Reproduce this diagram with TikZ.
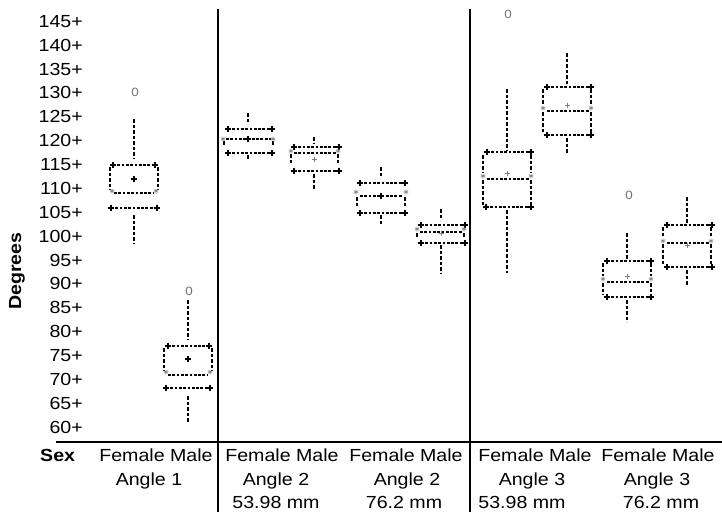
\documentclass[tikz,border=0pt]{standalone}
\usepackage{fontspec}
\setmainfont{Liberation Sans}[FakeStretch=1.12]
\usetikzlibrary{plotmarks}
\begin{document}
\begin{tikzpicture}[x=1pt,y=-1pt,
  hd/.style={line width=1.3pt, dash pattern=on 2.8pt off 1.5pt},
  vd/.style={line width=1.7pt, dash pattern=on 3.5pt off 2pt},
  pm/.style={only marks, mark=+, mark size=3.3pt, mark options={line width=1.2pt,black,solid}},
  st/.style={only marks, mark=asterisk, mark size=2.5pt, mark options={line width=0.8pt,black!45,solid}},
  mb/.style={only marks, mark=+, mark size=2.8pt, mark options={line width=1.2pt,black,solid}},
  mg/.style={only marks, mark=+, mark size=2.5pt, mark options={line width=0.7pt,black!50,solid}},
  ol/.style={font=\fontsize{12}{12}\selectfont, text=black!55, inner sep=0},
  ax/.style={font=\fontsize{17.5}{19}\selectfont, anchor=base east, inner sep=0},
  lb/.style={font=\fontsize{17.5}{19}\selectfont, anchor=base, inner sep=0},
  frame/.style={line width=1.5pt}]
\useasboundingbox (0,0) rectangle (722,512);
% frame lines
\coordinate (v1t) at (218,9); \coordinate (v1b) at (218,512);
\coordinate (v2t) at (470,9); \coordinate (v2b) at (470,512);
\coordinate (hl) at (56,442); \coordinate (hr) at (722,442);
\draw[frame] (v1t) -- (v1b);
\draw[frame] (v2t) -- (v2b);
\draw[frame] (hl) -- (hr);
% axis labels
\foreach \v in {60,65,...,145}
  \node[ax] (l\v) at (83,{427-4.776*(\v-60)+6.2}) {\v+};
\node[font=\bfseries\fontsize{17.5}{19}\selectfont, rotate=90, inner sep=0] (deg) at (17,271) {Degrees};
% bottom labels
\node[font=\bfseries\fontsize{17.5}{19}\selectfont, anchor=base west, inner sep=0] (sex) at (40,461) {Sex};
\node[lb] (g1a) at (156,461) {Female Male};
\node[lb] (g2a) at (282,461) {Female Male};
\node[lb] (g3a) at (406,461) {Female Male};
\node[lb] (g4a) at (535,461) {Female Male};
\node[lb] (g5a) at (658,461) {Female Male};
\node[lb] (g1b) at (149,485) {Angle 1};
\node[lb] (g2b) at (276,485) {Angle 2};
\node[lb] (g3b) at (407,485) {Angle 2};
\node[lb] (g4b) at (532,485) {Angle 3};
\node[lb] (g5b) at (657,485) {Angle 3};
\node[lb] (g2c) at (276,508) {53.98 mm};
\node[lb] (g3c) at (404,508) {76.2 mm};
\node[lb] (g4c) at (522,508) {53.98 mm};
\node[lb] (g5c) at (661,508) {76.2 mm};

% ---- Angle 1 Female
\draw[vd] (134,119) -- (134,159);
\draw[hd] (113,165) -- (155,165);
\draw[vd] (110,167) -- (110,190); \draw[vd] (158,167) -- (158,190);
\draw[hd] (114,193) -- (154,193);
\draw[hd] (111,208) -- (157,208);
\draw[vd] (134,215) -- (134,243);
\draw plot[pm] coordinates {(113,165) (155,165) (111,208) (157,208)};
\draw plot[st] coordinates {(112,191) (156,191)};
\draw plot[mb] coordinates {(134,179)};
\node[ol] (o1) at (135,92) {0};
% ---- Angle 1 Male
\draw[vd] (188,300) -- (188,340);
\draw[hd] (168,346) -- (209,346);
\draw[vd] (164,348) -- (164,371); \draw[vd] (212,348) -- (212,371);
\draw[hd] (168,375) -- (208,375);
\draw[hd] (166,388) -- (210,388);
\draw[vd] (188,396) -- (188,423);
\draw plot[pm] coordinates {(168,346) (209,346) (166,388) (210,388)};
\draw plot[st] coordinates {(166,372) (210,372)};
\draw plot[mb] coordinates {(188,359)};
\node[ol] (o2) at (189,291) {0};
% ---- Angle 2 53.98 Female
\draw[vd] (248,113) -- (248,123);
\draw[hd] (228,129) -- (272,129);
\draw[hd] (226,139) -- (271,139);
\draw[vd] (224,141) -- (224,146); \draw[vd] (273,141) -- (273,146);
\draw[hd] (228,153) -- (272,153);
\draw[vd] (248,155) -- (248,160);
\draw plot[pm] coordinates {(228,129) (272,129) (228,153) (272,153)};
\draw plot[st] coordinates {(223,139) (273,139)};
\draw plot[mb] coordinates {(248,139)};
% ---- Angle 2 53.98 Male
\draw[vd] (314,137) -- (314,144);
\draw[hd] (294,147) -- (339,147);
\draw[hd] (294,153) -- (337,153);
\draw[vd] (291,154) -- (291,164); \draw[vd] (338,154) -- (338,164);
\draw[hd] (294,171) -- (339,171);
\draw[vd] (314,174) -- (314,189);
\draw plot[pm] coordinates {(294,147) (339,147) (294,171) (339,171)};
\draw plot[st] coordinates {(291,151) (338,151)};
\draw plot[mg] coordinates {(314,159)};
% ---- Angle 2 76.2 Female
\draw[vd] (381,167) -- (381,178);
\draw[hd] (360,183) -- (405,183);
\draw[hd] (360,196) -- (403,196);
\draw[vd] (357,197) -- (357,206); \draw[vd] (405,197) -- (405,206);
\draw[hd] (360,213) -- (405,213);
\draw[vd] (381,215) -- (381,225);
\draw plot[pm] coordinates {(360,183) (405,183) (360,213) (405,213)};
\draw plot[st] coordinates {(356,192) (406,192)};
\draw plot[mb] coordinates {(381,196)};
% ---- Angle 2 76.2 Male
\draw[vd] (441,209) -- (441,220);
\draw[hd] (421,225) -- (465,225);
\draw[hd] (420,232) -- (462,232);
\draw[vd] (417,233) -- (417,238); \draw[vd] (464,233) -- (464,238);
\draw[hd] (421,243) -- (465,243);
\draw[vd] (441,245) -- (441,273);
\draw plot[pm] coordinates {(421,225) (465,225) (421,243) (465,243)};
\draw plot[st] coordinates {(417,229) (464,229)};
\draw plot[mg] coordinates {(441,233)};
% ---- Angle 3 53.98 Female
\draw[vd] (507,89) -- (507,150);
\draw[hd] (487,152) -- (531,152);
\draw[vd] (483,155) -- (483,173); \draw[vd] (531,155) -- (531,173);
\draw[hd] (487,179) -- (529,179);
\draw[vd] (483,180) -- (483,205); \draw[vd] (531,180) -- (531,205);
\draw[hd] (486,207) -- (531,207);
\draw[vd] (507,210) -- (507,273);
\draw plot[pm] coordinates {(487,152) (531,152) (486,207) (531,207)};
\draw plot[st] coordinates {(483,176) (531,176)};
\draw plot[mg] coordinates {(507,173)};
\node[ol] (o3) at (508,14) {0};
% ---- Angle 3 53.98 Male
\draw[vd] (567,53) -- (567,85);
\draw[hd] (547,87) -- (591,87);
\draw[vd] (543,89) -- (543,105); \draw[vd] (591,89) -- (591,105);
\draw[hd] (547,111) -- (589,111);
\draw[vd] (543,112) -- (543,133); \draw[vd] (591,112) -- (591,133);
\draw[hd] (547,135) -- (591,135);
\draw[vd] (567,138) -- (567,153);
\draw plot[pm] coordinates {(547,87) (591,87) (547,135) (591,135)};
\draw plot[st] coordinates {(543,108) (591,108)};
\draw plot[mg] coordinates {(567,105)};
% ---- Angle 3 76.2 Female
\draw[vd] (627,233) -- (627,259);
\draw[hd] (607,261) -- (651,261);
\draw[vd] (603,263) -- (603,276); \draw[vd] (651,263) -- (651,276);
\draw[hd] (607,282) -- (649,282);
\draw[vd] (603,283) -- (603,295); \draw[vd] (651,283) -- (651,295);
\draw[hd] (607,297) -- (651,297);
\draw[vd] (627,300) -- (627,322);
\draw plot[pm] coordinates {(607,261) (651,261) (607,297) (651,297)};
\draw plot[st] coordinates {(603,279) (651,279)};
\draw plot[mg] coordinates {(627,276)};
\node[ol] (o4) at (629,195) {0};
% ---- Angle 3 76.2 Male
\draw[vd] (687,197) -- (687,223);
\draw[hd] (667,225) -- (712,225);
\draw[vd] (663,227) -- (663,238); \draw[vd] (711,227) -- (711,238);
\draw[hd] (667,243) -- (709,243);
\draw[vd] (663,244) -- (663,265); \draw[vd] (711,244) -- (711,265);
\draw[hd] (667,267) -- (712,267);
\draw[vd] (687,270) -- (687,285);
\draw plot[pm] coordinates {(667,225) (712,225) (667,267) (712,267)};
\draw plot[st] coordinates {(663,241) (711,241)};
\draw plot[mg] coordinates {(687,245)};
\end{tikzpicture}
\end{document}
